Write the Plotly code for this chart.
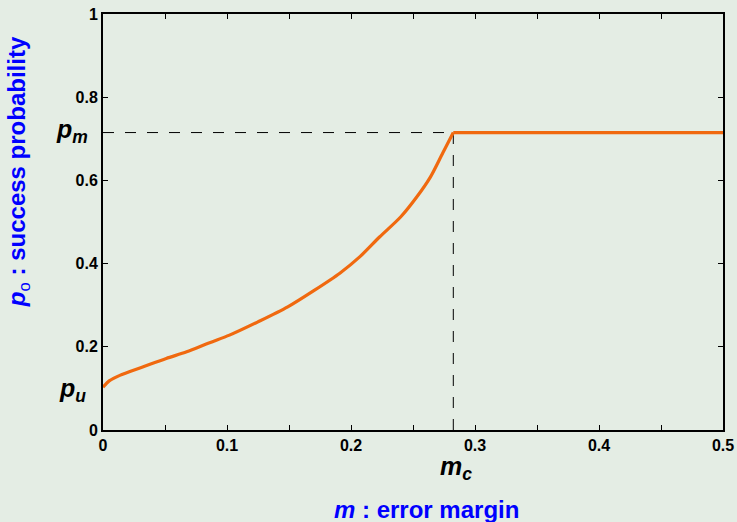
import plotly.graph_objects as go

# data
m_values = [0, 0.005, 0.014, 0.0325, 0.051, 0.0675, 0.086, 0.102, 0.125, 0.149,
            0.17, 0.191, 0.207, 0.223, 0.24, 0.253, 0.264, 0.274, 0.2825, 0.5]
p_values = [0.103, 0.118, 0.132, 0.152, 0.172, 0.188, 0.21, 0.228, 0.26, 0.296,
            0.335, 0.377, 0.416, 0.464, 0.512, 0.56, 0.608, 0.666, 0.715, 0.715]
m_c = 0.2825
p_m = 0.715
p_u = 0.103

x_tickvals = [0, 0.05, 0.1, 0.15, 0.2, 0.25, 0.3, 0.35, 0.4, 0.45, 0.5]
x_ticktext = ['0', '', '0.1', '', '0.2', '', '0.3', '', '0.4', '', '0.5']
y_tickvals = [0, 0.2, 0.4, 0.6, 0.8, 1]
y_ticktext = ['0', '0.2', '0.4', '0.6', '0.8', '1']

BG = '#e4ede4'
ORANGE = '#f0690f'
FONT = 'Liberation Sans, Arial, sans-serif'

fig = go.Figure()
# dashed guide lines
fig.add_trace(go.Scatter(x=[0, m_c], y=[p_m, p_m], mode='lines',
                         line=dict(color='black', width=1, dash='11px,11px'),
                         hoverinfo='skip', showlegend=False))
fig.add_trace(go.Scatter(x=[m_c, m_c], y=[0, p_m], mode='lines',
                         line=dict(color='black', width=1, dash='11px,11px'),
                         hoverinfo='skip', showlegend=False))
# curve: rising part (smoothed) and flat part
fig.add_trace(go.Scatter(x=m_values[:-1], y=p_values[:-1], mode='lines',
                         line=dict(color=ORANGE, width=3.2, shape='spline', smoothing=0.8),
                         showlegend=False))
fig.add_trace(go.Scatter(x=m_values[-2:], y=p_values[-2:], mode='lines',
                         line=dict(color=ORANGE, width=3.2),
                         showlegend=False))

axis_common = dict(showgrid=False, zeroline=False, showline=True, linecolor='black',
                   linewidth=2, mirror='ticks', ticks='inside', ticklen=5,
                   tickwidth=1, tickcolor='black', automargin=False,
                   tickfont=dict(family=FONT, size=16, color='black', weight='bold'))

fig.update_xaxes(range=[0, 0.5], tickmode='array', tickvals=x_tickvals,
                 ticktext=x_ticktext, **axis_common)
fig.update_yaxes(range=[0, 1], tickmode='array', tickvals=y_tickvals,
                 ticktext=y_ticktext, **axis_common)

big = dict(family=FONT, size=25, color='black', weight='bold')
blue = dict(family=FONT, size=24, color='#0000ff', weight='bold')
annots = [
    dict(x=0, y=p_m, xref='paper', yref='y', text='<i>p<sub>m</sub></i>',
         xanchor='right', yanchor='middle', xshift=-13, yshift=2, showarrow=False,
         font=big),
    dict(x=0, y=p_u, xref='paper', yref='y', text='<i>p<sub>u</sub></i>',
         xanchor='right', yanchor='middle', xshift=-15, yshift=-3, showarrow=False,
         font=big),
    dict(x=m_c, y=0, xref='x', yref='paper', text='<i>m<sub>c</sub></i>',
         xanchor='center', yanchor='middle', yshift=-38, xshift=3, showarrow=False,
         font=big),
    dict(x=0.521, y=-0.19, xref='paper', yref='paper',
         text='<i>m</i> : error margin', xanchor='center', yanchor='middle',
         showarrow=False, font=blue),
    dict(x=-0.137, y=0.62, xref='paper', yref='paper',
         text='<i>p</i><sub style="font-weight:normal">o</sub> : success probability',
         textangle=-90, xanchor='center', yanchor='middle', showarrow=False,
         font=blue),
]

fig.update_layout(width=737, height=522, paper_bgcolor=BG, plot_bgcolor=BG,
                  margin=dict(l=103, r=14, t=14, b=92, autoexpand=False),
                  annotations=annots)

fig.write_html('out.html', config={'displayModeBar': False},
               post_script="document.body.style.margin='0';")
